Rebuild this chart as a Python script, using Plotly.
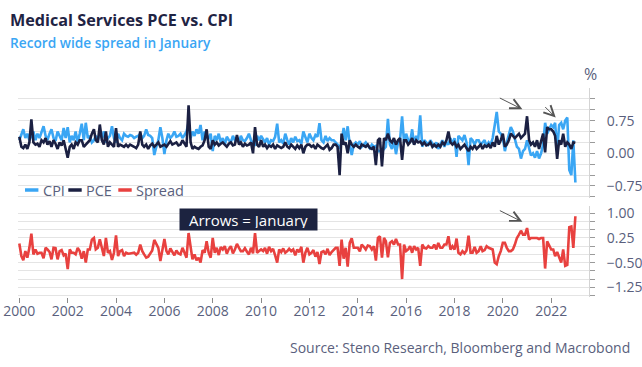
import pandas as pd
import plotly.graph_objects as go

# ---------------- data (monthly, Jan 2000 .. Jan 2023, % m/m) ----------------
start_month = "2000-01-01"
end_month = "2023-01-01"

cpi = [
    0.30, 0.45, 0.55, 0.35, 0.45, 0.30, 0.40, 0.50, 0.30, 0.45, 0.35, 0.50,   # 2000
    0.62, 0.40, 0.30, 0.45, 0.55, 0.35, 0.28, 0.50, 0.40, 0.30, 0.58, 0.35,   # 2001
    0.60, 0.25, 0.40, 0.30, 0.50, 0.25, 0.45, 0.68, 0.30, 0.70, 0.35, 0.40,   # 2002
    0.25, 0.30, 0.40, 0.30, 0.45, 0.35, 0.50, 0.25, 0.35, 0.40, 0.62, 0.35,   # 2003
    0.25, 0.45, 0.35, 0.30, 0.45, 0.40, 0.38, 0.42, 0.40, 0.35, 0.38, 0.40,   # 2004
    0.45, 0.35, 0.40, 0.55, 0.42, 0.40, 0.35, -0.04, 0.15, 0.30, 0.60, 0.35,  # 2005
    -0.02, 0.30, 0.45, 0.35, 0.40, 0.50, 0.38, 0.40, 0.45, 0.35, 0.42, 0.50,  # 2006
    0.70, 0.35, 0.50, 0.40, 0.55, 0.45, 0.65, 0.30, 0.50, 0.40, 0.35, 0.45,   # 2007
    0.05, 0.40, 0.30, 0.45, 0.25, 0.35, 0.20, 0.38, 0.30, 0.25, 0.40, 0.30,   # 2008
    0.35, 0.25, 0.40, 0.30, 0.28, 0.35, 0.45, 0.30, 0.22, 0.20, 0.40, 0.30,   # 2009
    0.40, 0.30, 0.25, 0.35, 0.20, 0.30, 0.28, 0.38, 0.68, 0.25, 0.30, 0.22,   # 2010
    0.45, 0.30, 0.20, 0.35, 0.25, 0.38, 0.28, 0.30, 0.22, 0.50, 0.35, 0.25,   # 2011
    0.45, 0.35, 0.30, 0.42, 0.38, 0.69, 0.30, 0.25, 0.40, 0.28, 0.35, 0.30,   # 2012
    0.30, 0.25, 0.20, 0.10, 0.25, 0.58, 0.30, 0.62, 0.20, -0.04, 0.20, 0.25,  # 2013
    0.20, 0.28, 0.15, 0.20, 0.25, 0.18, 0.12, 0.20, 0.15, 0.17, 0.05, 0.05,   # 2014
    0.05, 0.10, 0.15, 0.79, 0.20, 0.10, 0.30, -0.02, 0.25, 0.30, 0.85, 0.25,  # 2015
    0.45, 0.30, 0.25, 0.55, 0.20, 0.40, 0.30, 0.87, 0.15, 0.30, 0.25, 0.20,   # 2016
    0.30, 0.20, 0.15, 0.25, 0.10, 0.20, 0.30, 0.15, 0.25, 0.20, 0.35, 0.20,   # 2017
    0.35, -0.08, 0.40, 0.35, 0.30, 0.42, 0.25, -0.27, 0.35, 0.30, 0.20, 0.30, # 2018
    0.30, 0.20, 0.25, 0.30, 0.15, 0.25, 0.20, 0.35, 0.65, 0.95, 0.50, 0.45,   # 2019
    0.35, 0.05, 0.25, 0.45, 0.60, 0.50, 0.30, 0.15, 0.10, -0.12, 0.05, 0.10,  # 2020
    0.30, 0.10, -0.05, 0.00, -0.10, 0.05, -0.12, 0.00, 0.20, 0.70, 0.45, 0.55,# 2021
    0.65, 0.60, 0.70, 0.05, 0.65, 0.70, 0.55, 0.75, 0.82, -0.38, -0.50, 0.30, # 2022
    -0.67,                                                                    # 2023
]

pce = [
    0.38, 0.15, 0.12, 0.20, 0.10, 0.25, 0.78, 0.25, 0.20, 0.22, 0.15, 0.30,   # 2000
    0.25, 0.35, 0.20, 0.28, 0.15, 0.30, 0.22, 0.10, 0.25, 0.18, 0.30, 0.12,   # 2001
    -0.10, 0.15, 0.20, 0.10, 0.25, 0.20, 0.30, 0.30, 0.15, 0.20, 0.25, 0.30,  # 2002
    0.45, 0.55, 0.30, 0.25, 0.66, 0.30, 0.20, 0.50, 0.15, 0.25, 0.20, 0.15,   # 2003
    0.58, 0.15, 0.20, 0.18, 0.15, 0.20, 0.15, 0.20, 0.18, 0.15, 0.12, 0.20,   # 2004
    0.50, 0.20, 0.15, 0.20, 0.10, 0.18, 0.22, 0.15, 0.20, 0.25, 0.15, 0.18,   # 2005
    0.20, 0.15, 0.20, 0.28, 0.20, 0.22, 0.25, 0.18, 0.20, 0.30, 0.22, 0.15,   # 2006
    1.10, 0.25, 0.10, 0.15, 0.12, 0.10, 0.15, 0.18, 0.30, 0.55, 0.15, 0.10,   # 2007
    0.30, 0.20, 0.25, 0.18, 0.22, 0.25, 0.20, 0.15, 0.22, 0.25, 0.18, 0.20,   # 2008
    0.42, 0.20, 0.25, 0.15, 0.22, 0.18, 0.20, 0.25, 0.00, 0.60, 0.20, 0.15,   # 2009
    0.30, 0.15, 0.20, 0.12, 0.18, 0.15, 0.20, 0.10, 0.18, 0.15, 0.12, 0.15,   # 2010
    0.25, 0.15, 0.12, 0.20, 0.15, 0.10, 0.18, 0.12, 0.20, 0.00, 0.15, 0.20,   # 2011
    0.20, 0.15, 0.18, 0.10, 0.20, 0.15, 0.12, 0.10, 0.15, 0.20, 0.08, 0.12,   # 2012
    0.20, 0.20, 0.15, -0.50, 0.45, 0.20, 0.25, 0.00, 0.30, 0.20, 0.15, 0.20,  # 2013
    0.15, 0.12, 0.20, 0.18, 0.15, 0.20, 0.12, 0.10, 0.15, -0.27, 0.30, 0.35,  # 2014
    -0.30, 0.35, 0.30, 0.45, 0.30, 0.25, 0.35, 0.20, 0.30, 0.35, -0.15, 0.30, # 2015
    0.30, 0.20, 0.25, 0.35, 0.20, 0.30, 0.25, 0.27, 0.20, 0.25, 0.18, 0.20,   # 2016
    0.25, 0.15, 0.20, 0.15, 0.20, 0.15, 0.25, 0.20, 0.30, 0.50, 0.25, 0.20,   # 2017
    0.25, 0.15, 0.20, 0.10, 0.15, 0.20, 0.12, 0.05, 0.15, 0.10, 0.18, 0.10,   # 2018
    0.15, 0.20, 0.10, 0.18, 0.15, 0.20, 0.12, 0.25, 0.15, 0.40, 0.20, 0.30,   # 2019
    0.45, 0.15, 0.20, 0.30, 0.45, 0.40, 0.35, 0.40, 0.45, 0.35, 0.40, 0.45,   # 2020
    0.85, 0.30, 0.20, 0.25, 0.15, 0.30, 0.10, 0.25, 0.45, 0.02, 0.60, 0.55,   # 2021
    0.55, 0.50, 0.40, -0.13, 0.30, 0.20, 0.45, 0.15, 0.25, 0.20, 0.10, 0.25,  # 2022
    0.24,                                                                     # 2023
]

series_names = ["CPI", "PCE", "Spread"]
year_ticks = list(range(2000, 2023, 2))

dates = pd.date_range(start_month, end_month, freq="MS")
spread = [p - c for p, c in zip(pce, cpi)]   # PCE minus CPI

# ---------------- styling ----------------
C_CPI = "#3aa6f4"
C_PCE = "#1b2042"
C_SPR = "#e8413f"
colors = [C_CPI, C_PCE, C_SPR]
TXT = "#5a5f7d"
GRID = "#e4e4e4"
FONT = "Open Sans"

# figure fills the 642x367 window (page body margin removed after plotting)
W, H = 642, 367
L, R, T, B = 18, 53, 88, 70          # plot area: x 18..589, y 88..297
PW, PH = W - L - R, H - T - B


def px(sx):
    return (sx - L) / PW


def py(sy):
    return (H - B - sy) / PH


fig = go.Figure()
fig.add_trace(go.Scatter(x=dates, y=cpi, name=series_names[0], mode="lines",
                         line=dict(color=C_CPI, width=2.6), xaxis="x", yaxis="y"))
fig.add_trace(go.Scatter(x=dates, y=pce, name=series_names[1], mode="lines",
                         line=dict(color=C_PCE, width=2.6), xaxis="x", yaxis="y"))
fig.add_trace(go.Scatter(x=dates, y=spread, name=series_names[2], mode="lines",
                         line=dict(color=C_SPR, width=2.6), xaxis="x2", yaxis="y2"))

xrange = ["1999-12-12", "2023-07-26"]

yaxis_common = dict(
    side="right", showgrid=True, gridcolor=GRID, gridwidth=1, zeroline=False,
    showline=True, linecolor="#d4d4d4", linewidth=1, automargin=False,
    ticks="outside", ticklen=5, tickcolor="#9a9a9a", dtick=0.75,
    ticklabelstandoff=9, ticklabeloverflow="allow",
    tickformat=".2f", tickfont=dict(family=FONT, size=14, color=TXT),
    minor=dict(dtick=0.25, showgrid=True, gridcolor=GRID, gridwidth=1,
               ticks="outside", ticklen=5, tickcolor="#9a9a9a"),
    fixedrange=True,
)

fig.update_layout(
    template="none",
    width=W, height=H,
    margin=dict(l=L, r=R, t=T, b=B, pad=0),
    paper_bgcolor="white", plot_bgcolor="white",
    font=dict(family=FONT, color=TXT),
    xaxis=dict(domain=[0, 1], anchor="y", matches="x2", range=xrange, automargin=False,
               showticklabels=False, showgrid=False, zeroline=False, showline=False,
               ticks=""),
    xaxis2=dict(domain=[0, 1], anchor="y2", type="date", range=xrange, automargin=False,
                tickvals=[f"{y}-01-01" for y in year_ticks],
                ticktext=[str(y) for y in year_ticks],
                ticks="outside", ticklen=5, tickcolor="#8a8a8a",
                ticklabelstandoff=-4, ticklabeloverflow="allow",
                showgrid=False, zeroline=False, showline=False,
                tickfont=dict(family=FONT, size=14, color=TXT)),
    yaxis=dict(domain=[py(198.2), 1.0], range=[-1.03, 1.498], tick0=0,
               **yaxis_common),
    yaxis2=dict(domain=[0, py(206)], range=[-1.546, 1.222], tick0=1.0,
                **yaxis_common),
    showlegend=False,
)

annotations = [
    dict(text="<b>Medical Services PCE vs. CPI</b>", xref="paper", yref="paper",
         x=px(7.5), y=py(20.5), xanchor="left", yanchor="middle", showarrow=False,
         font=dict(family=FONT, size=16.2, color="#1f2444")),
    dict(text="Record wide spread in January", xref="paper", yref="paper",
         x=px(8), y=py(42.5), xanchor="left", yanchor="middle", showarrow=False,
         font=dict(family=FONT, size=13.7, color="#3aa6f4", weight=600)),
    dict(text="%", xref="paper", yref="paper", x=px(590), y=py(74), xanchor="center",
         yanchor="middle", showarrow=False, font=dict(family=FONT, size=16, color=TXT)),
    dict(text="Source: Steno Research, Bloomberg and Macrobond", xref="paper", yref="paper",
         x=px(632), y=py(347), xanchor="right", yanchor="middle", showarrow=False,
         font=dict(family=FONT, size=14, color=TXT)),
    dict(text="Arrows = January", xref="paper", yref="paper", x=px(248.5), y=py(219.5),
         xanchor="center", yanchor="middle", showarrow=False, bgcolor="#1c2340",
         width=133, height=17, borderpad=2,
         font=dict(family=FONT, size=15, color="white")),
    # January arrows
    dict(text="", xref="x", yref="y", x="2020-10-22", y=1.01, ax=-24, ay=-12,
         showarrow=True, arrowhead=5, arrowsize=2.0, arrowwidth=1, arrowcolor="#555555"),
    dict(text="", xref="x", yref="y", x="2022-03-10", y=0.82, ax=-12, ay=-12,
         showarrow=True, arrowhead=5, arrowsize=2.0, arrowwidth=1, arrowcolor="#555555"),
    dict(text="", xref="x2", yref="y2", x="2020-10-22", y=0.74, ax=-24, ay=-12,
         showarrow=True, arrowhead=5, arrowsize=2.0, arrowwidth=1, arrowcolor="#555555"),
]

# compact legend (line swatch + label) as in the original
legend_swatch_x = [25, 68.3, 118.3]
legend_y = 190
shapes = []
for name, col, sx in zip(series_names, colors, legend_swatch_x):
    shapes.append(dict(type="line", xref="paper", yref="paper",
                       x0=px(sx), x1=px(sx + 13.4), y0=py(legend_y), y1=py(legend_y),
                       line=dict(color=col, width=3.5)))
    annotations.append(dict(text=name, xref="paper", yref="paper", x=px(sx + 15.5),
                            y=py(legend_y), xanchor="left", yanchor="middle",
                            showarrow=False, font=dict(family=FONT, size=14.5, color=TXT)))

fig.update_layout(annotations=annotations, shapes=shapes)

fig.write_html("out.html",
               config={"displayModeBar": False, "staticPlot": True},
               post_script="document.body.style.margin='0px';"
                           "document.body.style.overflow='hidden';")
